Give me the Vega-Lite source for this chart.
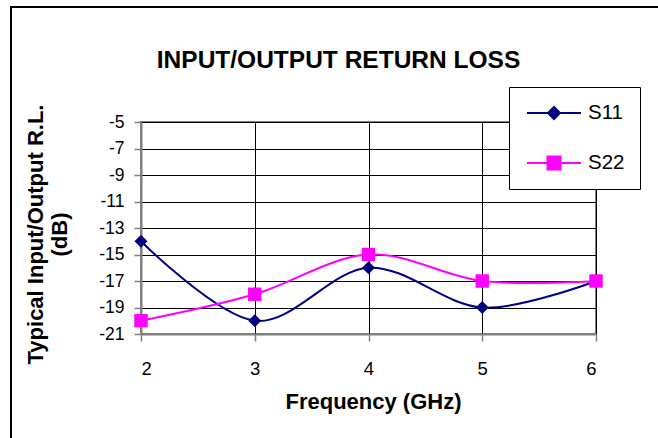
{
  "$schema": "https://vega.github.io/schema/vega-lite/v6.json",
  "width": 455,
  "height": 212,
  "autosize": {"type": "none"},
  "padding": {"left": 141, "top": 122, "right": 62, "bottom": 104},
  "background": "white",
  "title": {
    "text": "INPUT/OUTPUT RETURN LOSS",
    "font": "Liberation Sans",
    "fontSize": 24.5,
    "fontWeight": "bold",
    "color": "black",
    "anchor": "middle",
    "frame": "group",
    "dx": -30,
    "offset": 0,
    "dy": 67
  },
  "data": {
    "values": [
      {"freq": 2, "dB": -14, "series": "S11"},
      {"freq": 3, "dB": -20, "series": "S11"},
      {"freq": 4, "dB": -16, "series": "S11"},
      {"freq": 5, "dB": -19, "series": "S11"},
      {"freq": 6, "dB": -17, "series": "S11"},
      {"freq": 2, "dB": -20, "series": "S22"},
      {"freq": 3, "dB": -18, "series": "S22"},
      {"freq": 4, "dB": -15, "series": "S22"},
      {"freq": 5, "dB": -17, "series": "S22"},
      {"freq": 6, "dB": -17, "series": "S22"}
    ]
  },
  "config": {
    "font": "Liberation Sans",
    "view": {"stroke": "#808080", "strokeWidth": 2},
    "axis": {
      "grid": true,
      "gridColor": "#000000",
      "gridOpacity": 1,
      "gridWidth": 1,
      "domainColor": "#808080",
      "domainWidth": 2,
      "tickColor": "#808080",
      "tickWidth": 1.5,
      "tickSize": 7,
      "labelFont": "Liberation Sans",
      "labelColor": "#000000",
      "labelOverlap": false,
      "titleFont": "Liberation Sans",
      "titleFontSize": 22,
      "titleFontWeight": "bold",
      "titleColor": "#000000"
    }
  },
  "encoding": {
    "x": {
      "field": "freq",
      "type": "quantitative",
      "scale": {"domain": [2, 6], "nice": false},
      "axis": {"values": [2, 3, 4, 5, 6], "labelExpr": "'' + datum.value", "labelFontSize": 18.5, "title": "Frequency (GHz)", "labelPadding": 18, "titlePadding": 14, "titleX": 232}
    },
    "y": {
      "field": "dB",
      "type": "quantitative",
      "scale": {"domain": [-21, -5], "nice": false, "zero": false},
      "axis": {
        "values": [-21, -19, -17, -15, -13, -11, -9, -7, -5],
        "labelExpr": "'' + datum.value",
        "labelFontSize": 17.5,
        "title": ["Typical Input/Output R.L.", "(dB)"],
        "titleLineHeight": 24,
        "titleY": 112,
        "labelPadding": 10,
        "titlePadding": 27
      }
    },
    "color": {
      "field": "series",
      "type": "nominal",
      "scale": {"domain": ["S11", "S22"], "range": ["#000080", "#FF00FF"]},
      "legend": {
        "title": null,
        "orient": "none",
        "legendX": 368,
        "legendY": -35,
        "strokeColor": "#000000",
        "fillColor": "#FFFFFF",
        "padding": 15,
        "symbolSize": 400,
        "symbolOffset": 19,
        "labelOffset": 23,
        "rowPadding": 28,
        "labelFontSize": 20.5,
        "labelColor": "#000000",
        "labelFont": "Liberation Sans",
        "symbolStrokeWidth": 2,
        "encode": {
          "symbols": {
            "update": {
              "shape": {"signal": "datum.value == 'S11' ? 'M-2.7,0H2.7M0,-0.6L0.6,0L0,0.6L-0.6,0Z' : 'M-2.7,0H2.7M-0.65,-0.65H0.65V0.65H-0.65Z'"},
              "fill": {"signal": "datum.value == 'S11' ? '#000080' : '#FF00FF'"},
              "stroke": {"signal": "datum.value == 'S11' ? '#000080' : '#FF00FF'"},
              "strokeWidth": {"value": 2},
              "opacity": {"value": 1}
            }
          }
        }
      }
    }
  },
  "layer": [
    {
      "mark": {"type": "line", "interpolate": "cardinal", "tension": 0, "strokeWidth": 2},
      "encoding": {
        "opacity": {
          "datum": "frame",
          "type": "ordinal",
          "scale": {"domain": ["frame"], "range": [1, 1]},
          "legend": {
            "title": null,
            "orient": "none",
            "legendX": -130,
            "legendY": -115,
            "padding": 420,
            "strokeColor": "#000000",
            "symbolOpacity": 0,
            "symbolSize": 1,
            "symbolStrokeWidth": 0,
            "labelExpr": "''",
            "encode": {
              "legend": {"update": {"strokeWidth": {"value": 2}}},
              "symbols": {"update": {"opacity": {"value": 0}, "strokeOpacity": {"value": 0}, "fillOpacity": {"value": 0}}}
            }
          }
        }
      }
    },
    {
      "transform": [{"filter": "datum.series == 'S11'"}],
      "mark": {"type": "point", "filled": true, "opacity": 1, "shape": "diamond", "size": 170}
    },
    {
      "transform": [{"filter": "datum.series == 'S22'"}],
      "mark": {"type": "point", "filled": true, "opacity": 1, "shape": "square", "size": 180}
    }
  ]
}
